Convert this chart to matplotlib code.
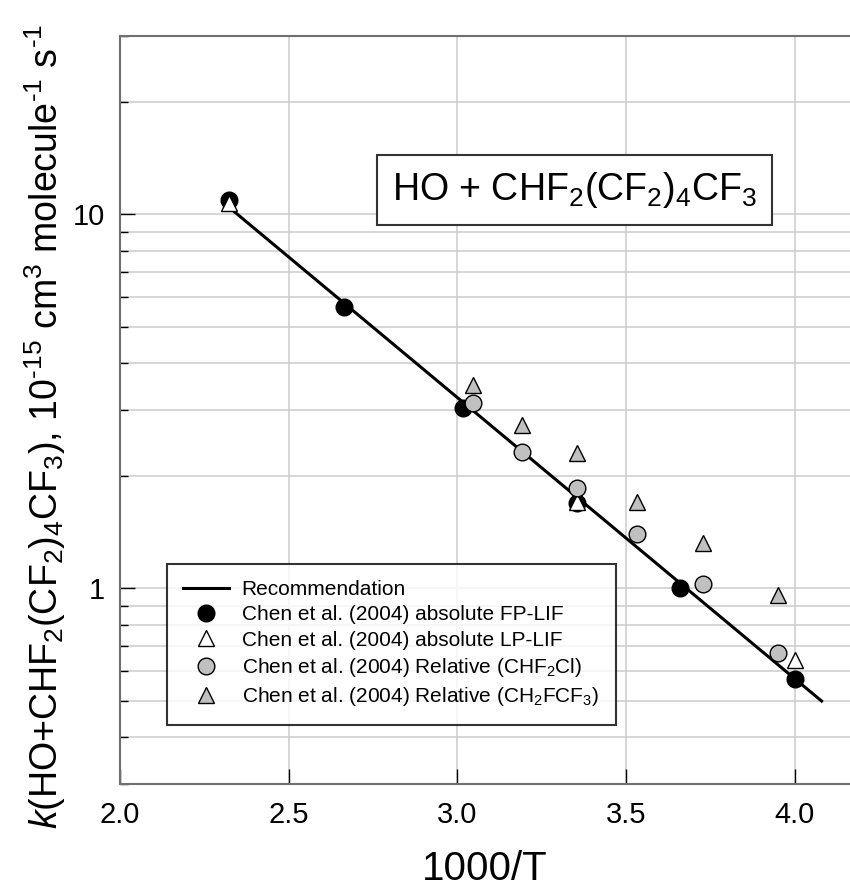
import numpy as np
import matplotlib
matplotlib.use("Agg")
import matplotlib.pyplot as plt
from matplotlib.ticker import LogLocator, FixedLocator, NullFormatter, FuncFormatter

plt.rcParams["font.family"] = ["Liberation Sans", "DejaVu Sans"]
plt.rcParams["mathtext.fontset"] = "custom"
plt.rcParams["mathtext.rm"] = "Liberation Sans"
plt.rcParams["mathtext.it"] = "Liberation Sans:italic"
plt.rcParams["mathtext.bf"] = "Liberation Sans:bold"

# recommendation line (end points, 1000/T vs k / 1e-15)
rec_x = [2.326, 4.08]
rec_k = [10.4, 0.50]

# Chen et al. (2004) absolute FP-LIF
fp_x = [2.324, 2.664, 3.017, 3.355, 3.661, 4.000]
fp_k = [10.9, 5.64, 3.03, 1.69, 1.00, 0.571]

# Chen et al. (2004) absolute LP-LIF
lp_x = [2.324, 3.355, 4.000]
lp_k = [10.7, 1.70, 0.645]

# Chen et al. (2004) relative to CHF2Cl
rel1_x = [3.047, 3.192, 3.355, 3.533, 3.729, 3.951]
rel1_k = [3.14, 2.32, 1.86, 1.40, 1.03, 0.67]

# Chen et al. (2004) relative to CH2FCF3
rel2_x = [3.047, 3.192, 3.355, 3.533, 3.729, 3.951]
rel2_k = [3.49, 2.73, 2.30, 1.70, 1.32, 0.958]

GRAY = "#c0c0c0"
SPINE = "#707070"

fig = plt.figure(figsize=(8.5, 8.9), dpi=100)
ax = fig.add_axes([120 / 850, 106 / 890, 730 / 850, 748 / 890])

ax.plot(rec_x, rec_k, "-", color="black", lw=2.2, zorder=3, label="Recommendation")
ax.plot(fp_x, fp_k, "o", ms=12, mfc="black", mec="black", mew=1, zorder=4,
        label="Chen et al. (2004) absolute FP-LIF")
ax.plot(lp_x, lp_k, "^", ms=12, mfc="white", mec="black", mew=1, zorder=5,
        label="Chen et al. (2004) absolute LP-LIF")
ax.plot(rel1_x, rel1_k, "o", ms=12, mfc=GRAY, mec="black", mew=1, zorder=6,
        label=r"Chen et al. (2004) Relative (CHF$_2$Cl)")
ax.plot(rel2_x, rel2_k, "^", ms=12, mfc=GRAY, mec="black", mew=1, zorder=6,
        label=r"Chen et al. (2004) Relative (CH$_2$FCF$_3$)")

ax.set_yscale("log")
ax.set_xlim(2.0, 2.0 + 730 / 337.3)
ax.set_ylim(0.3, 30)

ax.xaxis.set_major_locator(FixedLocator([2.0, 2.5, 3.0, 3.5, 4.0]))
ax.xaxis.set_major_formatter(FuncFormatter(lambda v, p: f"{v:.1f}"))
ax.yaxis.set_major_locator(FixedLocator([1, 10]))
ax.yaxis.set_major_formatter(FuncFormatter(lambda v, p: f"{v:g}"))
ax.yaxis.set_minor_locator(LogLocator(base=10, subs=np.arange(2, 10)))
ax.yaxis.set_minor_formatter(NullFormatter())

ax.grid(True, which="both", axis="y", color="#cccccc", lw=1.1, zorder=0)
ax.grid(True, which="major", axis="x", color="#cccccc", lw=1.1, zorder=0)
ax.set_axisbelow(True)

ax.tick_params(which="major", direction="in", length=11, width=1, color="black",
               labelsize=21)
ax.tick_params(which="minor", direction="in", length=6, width=1, color="black")
ax.tick_params(axis="y", which="major", pad=11)
ax.tick_params(axis="x", which="major", pad=12)
ax.tick_params(right=False, top=False)

for side in ["left", "bottom", "top"]:
    ax.spines[side].set_color(SPINE)
    ax.spines[side].set_linewidth(1.5)
ax.spines["right"].set_visible(False)

ax.set_xlabel("1000/T", fontsize=29)
ax.xaxis.set_label_coords(0.5, -0.088)
ax.set_ylabel(r"$k$(HO+CHF$_2$(CF$_2$)$_4$CF$_3$), 10$^{\text{-15}}$ cm$^3$ "
              r"molecule$^{\text{-1}}$ s$^{\text{-1}}$", fontsize=27)
ax.yaxis.set_label_coords(-0.071, 0.478)

ax.text(0.623, 0.794, r"HO + CHF$_2$(CF$_2$)$_4$CF$_3$", transform=ax.transAxes,
        fontsize=27, ha="center", va="center", zorder=7,
        bbox=dict(boxstyle="square,pad=0.4", fc="white", ec="#333333", lw=1.5))

leg = ax.legend(loc="lower left", bbox_to_anchor=(0.064, 0.079), borderaxespad=0,
                fontsize=15, frameon=True, fancybox=False, handlelength=2.2,
                handletextpad=0.6, labelspacing=0.3, borderpad=0.8, numpoints=1)
leg.get_frame().set_edgecolor("black")
leg.get_frame().set_linewidth(1.5)
leg.set_zorder(8)

fig.savefig("out.png", dpi=100)
